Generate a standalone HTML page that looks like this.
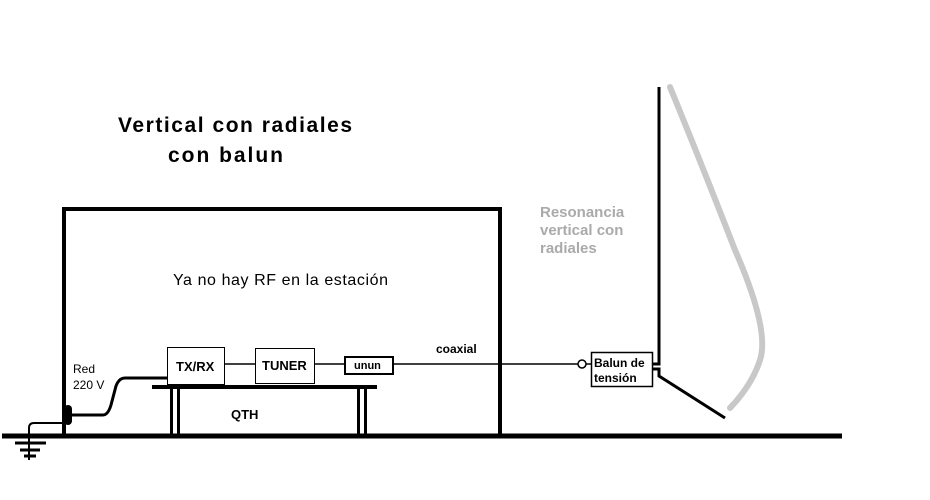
<!DOCTYPE html>
<html><head><meta charset="utf-8"><style>
body{margin:0;background:#fff;}
svg{display:block;font-family:"Liberation Sans",sans-serif;}
</style></head><body>
<svg width="930" height="500" viewBox="0 0 930 500">
<rect width="930" height="500" fill="#fff"/>
<text x="118" y="132" font-size="21" font-weight="bold" textLength="234">Vertical con radiales</text>
<text x="168" y="162" font-size="21" font-weight="bold" textLength="115">con balun</text>
<text x="540" y="217" font-size="15" font-weight="bold" fill="#aaa">Resonancia</text>
<text x="540" y="235" font-size="15" font-weight="bold" fill="#aaa">vertical con</text>
<text x="540" y="253" font-size="15" font-weight="bold" fill="#aaa">radiales</text>
<text x="173" y="285" font-size="16" textLength="215">Ya no hay RF en la estación</text>
<path d="M64,436 V209 H500 V436" fill="none" stroke="#000" stroke-width="4"/>
<line x1="2" y1="436" x2="842" y2="436" stroke="#000" stroke-width="5"/>
<path d="M64,423 H34 Q29,423 29,428 V460" fill="none" stroke="#000" stroke-width="2"/>
<line x1="15" y1="443" x2="46" y2="443" stroke="#000" stroke-width="3"/>
<line x1="20" y1="450" x2="40" y2="450" stroke="#000" stroke-width="3"/>
<line x1="24" y1="456" x2="36" y2="456" stroke="#000" stroke-width="3"/>
<rect x="64" y="405" width="8" height="20" rx="4" fill="#000"/>
<text x="73" y="373" font-size="12">Red</text>
<text x="73" y="389" font-size="12">220 V</text>
<path d="M70,415 H103 Q108,415 111,405 L116,386 Q119,378 125,378 H167" fill="none" stroke="#000" stroke-width="3"/>
<rect x="152" y="385" width="225" height="4" fill="#000"/>
<rect x="170" y="389" width="3" height="47" fill="#000"/><rect x="177" y="389" width="3" height="47" fill="#000"/>
<rect x="357" y="389" width="3" height="47" fill="#000"/><rect x="364" y="389" width="3" height="47" fill="#000"/>
<text x="231" y="419" font-size="13" font-weight="bold">QTH</text>
<rect x="167.5" y="347.5" width="57" height="37" fill="#fff" stroke="#000"/>
<text x="176" y="371" font-size="13" font-weight="bold">TX/RX</text>
<line x1="225" y1="364" x2="255" y2="364" stroke="#000" stroke-width="1.5"/>
<rect x="255.5" y="348.5" width="59" height="35" fill="#fff" stroke="#000"/>
<text x="262" y="370" font-size="13" font-weight="bold">TUNER</text>
<line x1="315" y1="364" x2="345" y2="364" stroke="#000" stroke-width="1.5"/>
<rect x="345" y="357" width="48" height="17" fill="#fff" stroke="#000" stroke-width="2"/>
<text x="354" y="369" font-size="11" font-weight="bold">unun</text>
<line x1="393" y1="364" x2="578" y2="364" stroke="#000" stroke-width="1.5"/>
<text x="436" y="353" font-size="12" font-weight="bold">coaxial</text>
<circle cx="582" cy="364" r="4" fill="none" stroke="#000" stroke-width="1.5"/>
<line x1="586" y1="364" x2="591" y2="364" stroke="#000" stroke-width="1.5"/>
<rect x="591.5" y="352.5" width="61" height="34" fill="#fff" stroke="#000" stroke-width="1.5"/>
<text x="594" y="367" font-size="12" font-weight="bold">Balun de</text>
<text x="594" y="382" font-size="12" font-weight="bold">tensión</text>
<path d="M653,364 H659 V87" fill="none" stroke="#000" stroke-width="3"/>
<path d="M653,369 H659 V376 L725,418" fill="none" stroke="#000" stroke-width="3"/>
<path d="M670,87 Q700,160 735,250 Q770,330 760,360 Q752,385 730,408" fill="none" stroke="#c8c8c8" stroke-width="6" stroke-linecap="round"/>
</svg>
</body></html>
